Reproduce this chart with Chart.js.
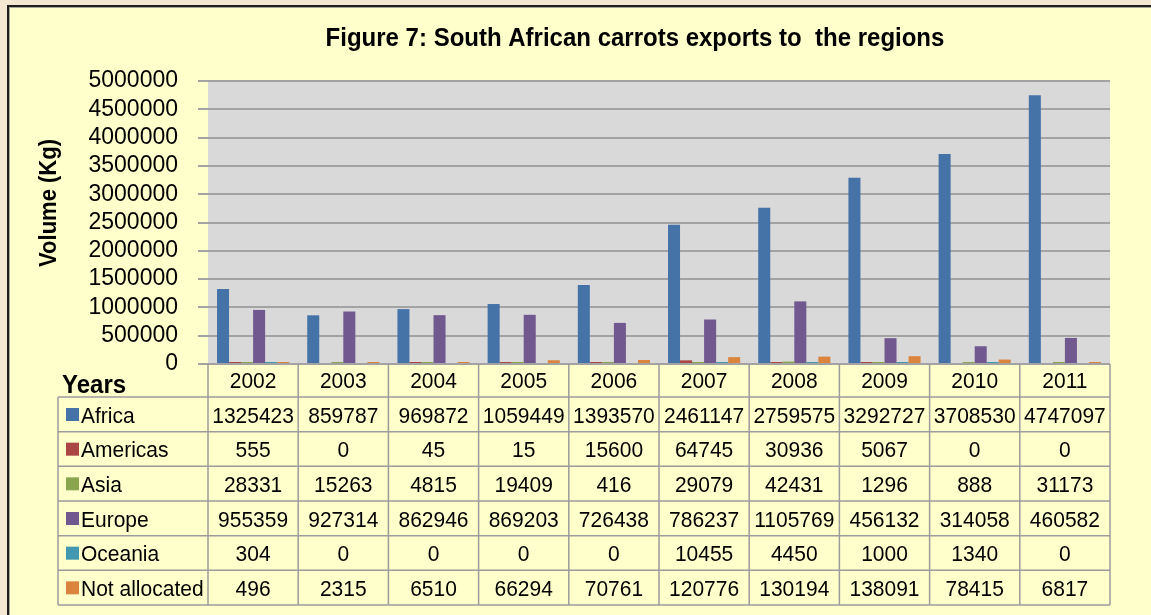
<!DOCTYPE html>
<html>
<head>
<meta charset="utf-8">
<script src="https://cdn.jsdelivr.net/npm/chart.js@4.4.0/dist/chart.umd.min.js"></script>
<style>
  html, body { margin: 0; padding: 0; background: #f4e8d2; overflow: hidden; }
  #frame { position: absolute; left: 7px; top: 5px; width: 1200px; height: 700px;
           border-left: 2px solid #1e1e1e; border-top: 2px solid #1e1e1e; background: #ffffcc;
           box-shadow: inset 1px 1px 0 #a8a89a; }
  #myChart { position: absolute; left: 0; top: 0; }
</style>
</head>
<body>
<div id="frame"></div>
<canvas id="myChart" width="1151" height="615"></canvas>
<script>
var years = ["2002", "2003", "2004", "2005", "2006", "2007", "2008", "2009", "2010", "2011"];
var africa = [1325423, 859787, 969872, 1059449, 1393570, 2461147, 2759575, 3292727, 3708530, 4747097];
var americas = [555, 0, 45, 15, 15600, 64745, 30936, 5067, 0, 0];
var asia = [28331, 15263, 4815, 19409, 416, 29079, 42431, 1296, 888, 31173];
var europe = [955359, 927314, 862946, 869203, 726438, 786237, 1105769, 456132, 314058, 460582];
var oceania = [304, 0, 0, 0, 0, 10455, 4450, 1000, 1340, 0];
var notAllocated = [496, 2315, 6510, 66294, 70761, 120776, 130194, 138091, 78415, 6817];
var yTicks = [0, 500000, 1000000, 1500000, 2000000, 2500000, 3000000, 3500000, 4000000, 4500000, 5000000];

var seriesNames = ["Africa", "Americas", "Asia", "Europe", "Oceania", "Not allocated"];
var seriesData = [africa, americas, asia, europe, oceania, notAllocated];
var seriesColors = ['#4572a7', '#aa4643', '#89a54e', '#71588f', '#4198af', '#db843d'];

var FONT = '"Liberation Sans", Arial, sans-serif';

// the original text looks a bit stretched upwards
function tallText(c, text, x, y) {
  c.save();
  c.translate(x, y);
  c.scale(1, 1.08);
  c.fillText(text, 0, 0);
  c.restore();
}

// background of plot + title, axis title and data table
var tablePlugin = {
  id: 'tablePlugin',
  beforeDraw: function (chart) {
    var a = chart.chartArea, c = chart.ctx;
    c.save();
    c.fillStyle = '#d9d9d9';
    c.fillRect(a.left, a.top, a.right - a.left, a.bottom - a.top);
    c.restore();
  },
  afterDraw: function (chart) {
    var a = chart.chartArea, c = chart.ctx;
    var n = years.length;
    var w = (a.right - a.left) / n;
    var headTop = a.bottom, headBot = 397, rowH = (605 - 397) / 6;
    var labelLeft = 58;
    c.save();

    // title
    c.fillStyle = '#000';
    c.font = 'bold 24px ' + FONT;
    c.textAlign = 'center';
    c.textBaseline = 'alphabetic';
    tallText(c, 'Figure 7: South African carrots exports to  the regions', 635, 46);

    // y axis title
    c.save();
    c.font = 'bold 22px ' + FONT;
    c.translate(56, 203);
    c.rotate(-Math.PI / 2);
    c.scale(1, 1.08);
    c.fillText('Volume (Kg)', 0, 0);
    c.restore();

    // grid lines of table
    c.strokeStyle = '#9c9c9c';
    c.lineWidth = 1.5;
    c.beginPath();
    c.moveTo(labelLeft, headBot);
    c.lineTo(a.right, headBot);
    for (var r = 1; r <= 6; r++) {
      var yy = headBot + r * rowH;
      c.moveTo(labelLeft, yy);
      c.lineTo(a.right, yy);
    }
    c.moveTo(labelLeft, headBot);
    c.lineTo(labelLeft, 605);
    for (var i = 0; i <= n; i++) {
      var xx = a.left + i * w;
      c.moveTo(xx, headTop);
      c.lineTo(xx, 605);
    }
    c.stroke();

    // header
    c.fillStyle = '#000';
    c.font = 'bold 24px ' + FONT;
    c.textAlign = 'left';
    tallText(c, 'Years', 62, 393);
    c.font = '21px ' + FONT;
    c.textAlign = 'center';
    for (var i = 0; i < n; i++) {
      tallText(c, years[i], a.left + (i + 0.5) * w, 388);
    }

    // rows
    for (var s = 0; s < seriesNames.length; s++) {
      var top = headBot + s * rowH;
      c.fillStyle = seriesColors[s];
      c.fillRect(66, top + 11, 13, 13);
      c.fillStyle = '#000';
      c.textAlign = 'left';
      tallText(c, seriesNames[s], 81, top + 25.5);
      c.textAlign = 'center';
      for (var i = 0; i < n; i++) {
        tallText(c, String(seriesData[s][i]), a.left + (i + 0.5) * w, top + 25.5);
      }
    }
    c.restore();
  }
};

var datasets = seriesNames.map(function (name, k) {
  return {
    label: name,
    backgroundColor: seriesColors[k],
    borderWidth: 0,
    minBarLength: 2,
    // zero values have no bar at all
    data: seriesData[k].map(function (v) { return v === 0 ? null : v; })
  };
});

var ctx = document.getElementById('myChart').getContext('2d');
var chart = new Chart(ctx, {
  type: 'bar',
  data: { labels: years, datasets: datasets },
  options: {
    responsive: false,
    animation: false,
    devicePixelRatio: 1,
    categoryPercentage: 0.8,
    barPercentage: 1.0,
    layout: { padding: { left: 0, right: 41, top: 81, bottom: 251 } },
    plugins: {
      legend: { display: false },
      title: { display: false },
      tooltip: { enabled: false }
    },
    scales: {
      x: { display: false },
      y: {
        min: 0,
        max: 5000000,
        afterFit: function (s) { s.width = 208; },
        afterBuildTicks: function (s) { s.ticks = yTicks.map(function (v) { return { value: v }; }); },
        ticks: {
          color: '#000',
          padding: 20,
          autoSkip: false,
          font: { family: FONT, size: 23, lineHeight: 1 },
          callback: function (v) { return String(v); }
        },
        grid: { color: '#a3a3a3', lineWidth: 2, tickLength: 10, drawTicks: true },
        border: { display: false }
      }
    }
  },
  plugins: [tablePlugin]
});
</script>
</body>
</html>
